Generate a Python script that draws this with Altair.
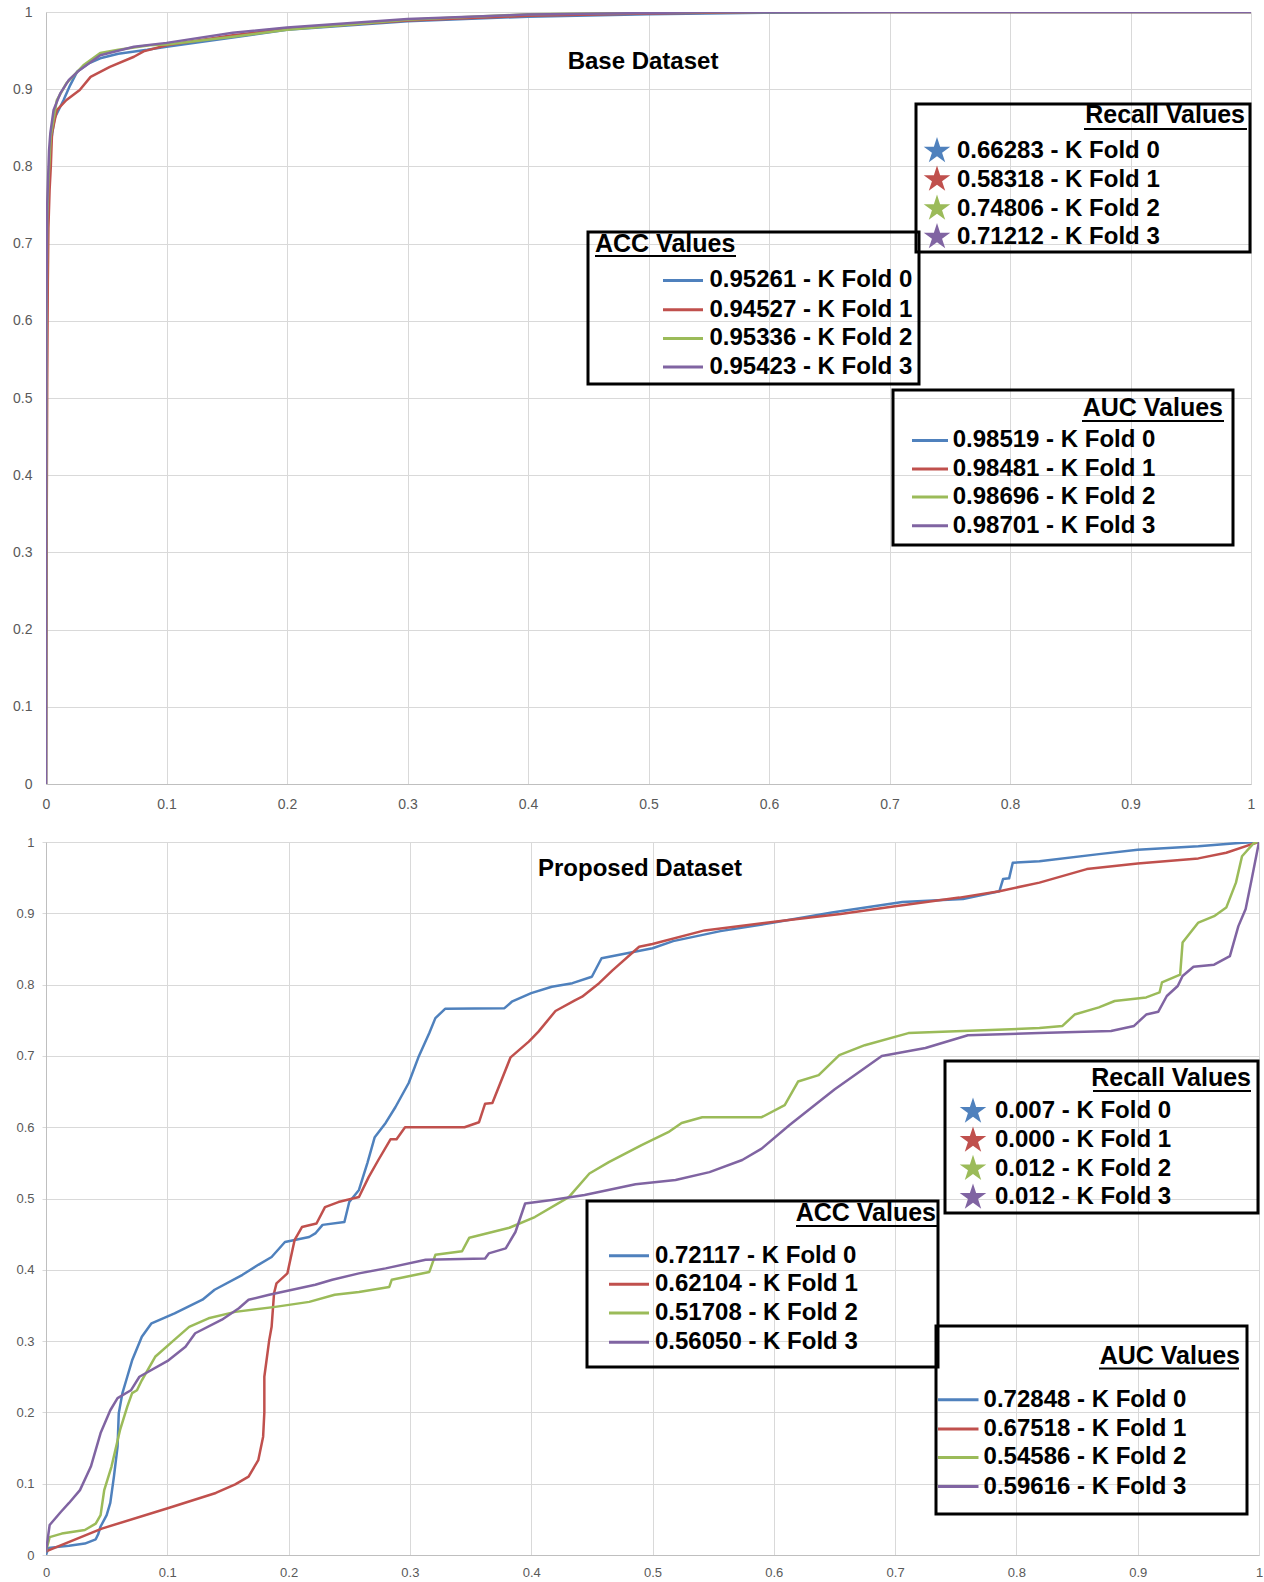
import altair as alt
import pandas as pd

FOLDS = ["K Fold 0", "K Fold 1", "K Fold 2", "K Fold 3"]
COLORS = ["#4F81BD", "#C0504D", "#9BBB59", "#8064A2"]
TICKS = [0, 0.1, 0.2, 0.3, 0.4, 0.5, 0.6, 0.7, 0.8, 0.9, 1]

# ---------------- Base dataset ROC curves ----------------
base_k0_fpr = [0, 0.0004, 0.001, 0.002, 0.004, 0.007, 0.0146, 0.02, 0.026, 0.035, 0.045, 0.06, 0.084, 0.1, 0.155, 0.2, 0.3, 0.4, 0.5, 0.6, 0.7, 1.0]
base_k0_tpr = [0, 0.55, 0.72, 0.77, 0.83, 0.862, 0.886, 0.905, 0.923, 0.933, 0.94, 0.946, 0.951, 0.955, 0.967, 0.977, 0.988, 0.994, 0.997, 0.999, 1.0, 1.0]

base_k1_fpr = [0, 0.0005, 0.001, 0.0015, 0.002, 0.003, 0.004, 0.005, 0.009, 0.017, 0.028, 0.037, 0.053, 0.073, 0.081, 0.1, 0.155, 0.2, 0.3, 0.4, 0.5, 0.6, 1.0]
base_k1_tpr = [0, 0.3, 0.52, 0.65, 0.72, 0.77, 0.8, 0.843, 0.873, 0.886, 0.899, 0.916, 0.929, 0.942, 0.949, 0.957, 0.97, 0.978, 0.989, 0.995, 0.998, 1.0, 1.0]

base_k2_fpr = [0, 0.0004, 0.001, 0.002, 0.004, 0.009, 0.017, 0.031, 0.045, 0.06, 0.086, 0.1, 0.155, 0.2, 0.3, 0.4, 0.5, 0.55, 1.0]
base_k2_tpr = [0, 0.55, 0.73, 0.78, 0.84, 0.886, 0.908, 0.931, 0.947, 0.951, 0.957, 0.958, 0.968, 0.977, 0.99, 0.997, 0.999, 1.0, 1.0]

base_k3_fpr = [0, 0.0003, 0.001, 0.0025, 0.0036, 0.0063, 0.012, 0.019, 0.028, 0.045, 0.073, 0.1, 0.155, 0.2, 0.3, 0.4, 0.5, 0.55, 1.0]
base_k3_tpr = [0, 0.6, 0.75, 0.82, 0.843, 0.873, 0.895, 0.912, 0.925, 0.944, 0.955, 0.96, 0.973, 0.98, 0.991, 0.9967, 0.9987, 1.0, 1.0]

# ---------------- Proposed dataset ROC curves ----------------
prop_k0_fpr = [0, 0.002, 0.019, 0.032, 0.041, 0.043, 0.045, 0.05, 0.053, 0.056, 0.059, 0.06, 0.063, 0.067, 0.071, 0.079, 0.087, 0.106, 0.129, 0.139, 0.162, 0.175, 0.186, 0.197, 0.217, 0.222, 0.228, 0.246, 0.25, 0.258, 0.265, 0.271, 0.28, 0.288, 0.299, 0.307, 0.316, 0.321, 0.329, 0.378, 0.384, 0.4, 0.417, 0.434, 0.45, 0.458, 0.5, 0.517, 0.556, 0.6, 0.648, 0.706, 0.756, 0.786, 0.789, 0.794, 0.797, 0.819, 0.868, 0.9, 0.95, 0.986, 1.0]
prop_k0_tpr = [0, 0.01, 0.013, 0.016, 0.022, 0.029, 0.04, 0.056, 0.073, 0.11, 0.152, 0.199, 0.227, 0.25, 0.273, 0.306, 0.325, 0.339, 0.358, 0.372, 0.393, 0.407, 0.418, 0.439, 0.446, 0.451, 0.463, 0.467, 0.495, 0.512, 0.55, 0.586, 0.606, 0.628, 0.662, 0.698, 0.732, 0.753, 0.766, 0.767, 0.776, 0.788, 0.797, 0.802, 0.811, 0.837, 0.851, 0.861, 0.875, 0.887, 0.901, 0.916, 0.92, 0.931, 0.948, 0.949, 0.971, 0.973, 0.983, 0.989, 0.994, 0.999, 1.0]

prop_k1_fpr = [0, 0.046, 0.101, 0.14, 0.156, 0.167, 0.175, 0.179, 0.18, 0.18, 0.184, 0.186, 0.188, 0.19, 0.199, 0.205, 0.211, 0.223, 0.23, 0.241, 0.258, 0.266, 0.274, 0.284, 0.289, 0.296, 0.345, 0.357, 0.362, 0.368, 0.383, 0.398, 0.406, 0.42, 0.436, 0.442, 0.456, 0.467, 0.489, 0.5, 0.543, 0.609, 0.655, 0.7, 0.753, 0.786, 0.819, 0.858, 0.9, 0.95, 0.973, 0.996, 1.0]
prop_k1_tpr = [0.005, 0.037, 0.066, 0.087, 0.099, 0.11, 0.133, 0.166, 0.2, 0.25, 0.301, 0.32, 0.367, 0.381, 0.395, 0.442, 0.46, 0.465, 0.488, 0.495, 0.502, 0.53, 0.554, 0.583, 0.583, 0.6, 0.6, 0.607, 0.633, 0.634, 0.698, 0.72, 0.734, 0.763, 0.778, 0.783, 0.802, 0.82, 0.853, 0.857, 0.876, 0.89, 0.899, 0.91, 0.922, 0.931, 0.943, 0.962, 0.97, 0.977, 0.985, 0.998, 1.0]

prop_k2_fpr = [0, 0.003, 0.013, 0.032, 0.041, 0.045, 0.048, 0.054, 0.061, 0.067, 0.071, 0.075, 0.079, 0.09, 0.106, 0.118, 0.134, 0.156, 0.189, 0.217, 0.238, 0.258, 0.283, 0.285, 0.316, 0.321, 0.343, 0.349, 0.382, 0.403, 0.431, 0.448, 0.464, 0.491, 0.513, 0.524, 0.541, 0.59, 0.609, 0.62, 0.637, 0.654, 0.675, 0.711, 0.739, 0.819, 0.838, 0.848, 0.868, 0.881, 0.907, 0.918, 0.92, 0.935, 0.937, 0.95, 0.963, 0.973, 0.981, 0.986, 0.996, 1.0]
prop_k2_tpr = [0.005, 0.025, 0.03, 0.035, 0.044, 0.056, 0.091, 0.124, 0.175, 0.208, 0.227, 0.231, 0.245, 0.278, 0.302, 0.32, 0.332, 0.341, 0.348, 0.355, 0.365, 0.369, 0.376, 0.386, 0.397, 0.421, 0.426, 0.445, 0.459, 0.474, 0.502, 0.535, 0.551, 0.575, 0.593, 0.606, 0.614, 0.614, 0.631, 0.664, 0.673, 0.701, 0.715, 0.732, 0.734, 0.739, 0.742, 0.758, 0.768, 0.777, 0.782, 0.789, 0.803, 0.814, 0.859, 0.887, 0.896, 0.908, 0.943, 0.98, 0.999, 1.0]

prop_k3_fpr = [0, 0.003, 0.012, 0.019, 0.028, 0.037, 0.045, 0.053, 0.059, 0.07, 0.077, 0.101, 0.115, 0.123, 0.145, 0.159, 0.167, 0.184, 0.222, 0.236, 0.258, 0.28, 0.313, 0.362, 0.365, 0.379, 0.387, 0.395, 0.417, 0.444, 0.486, 0.519, 0.547, 0.574, 0.59, 0.613, 0.65, 0.689, 0.725, 0.76, 0.819, 0.878, 0.897, 0.907, 0.917, 0.924, 0.933, 0.937, 0.946, 0.963, 0.976, 0.983, 0.989, 0.994, 1.0]
prop_k3_tpr = [0.005, 0.042, 0.06, 0.073, 0.091, 0.124, 0.171, 0.203, 0.22, 0.231, 0.25, 0.273, 0.292, 0.311, 0.33, 0.346, 0.358, 0.365, 0.379, 0.386, 0.395, 0.402, 0.414, 0.416, 0.423, 0.43, 0.453, 0.493, 0.498, 0.505, 0.52, 0.526, 0.537, 0.554, 0.57, 0.603, 0.653, 0.7, 0.711, 0.729, 0.732, 0.735, 0.742, 0.758, 0.762, 0.784, 0.798, 0.812, 0.825, 0.828, 0.84, 0.882, 0.906, 0.948, 1.0]

# ---------------- Metric values shown in the boxes ----------------
base_recall = ["0.66283", "0.58318", "0.74806", "0.71212"]
base_acc = ["0.95261", "0.94527", "0.95336", "0.95423"]
base_auc = ["0.98519", "0.98481", "0.98696", "0.98701"]
prop_recall = ["0.007", "0.000", "0.012", "0.012"]
prop_acc = ["0.72117", "0.62104", "0.51708", "0.56050"]
prop_auc = ["0.72848", "0.67518", "0.54586", "0.59616"]

FONT = "Liberation Sans"
TICK_FONT = "Liberation Sans"
STAR = ("M0,-1L0.2245,-0.309L0.951,-0.309L0.363,0.118L0.588,0.809L0,0.382"
        "L-0.588,0.809L-0.363,0.118L-0.951,-0.309L-0.2245,-0.309Z")
ONE = pd.DataFrame({"k": [0]})


def roc_frame(series):
    rows = []
    for fold, (fx, ty) in zip(FOLDS, series):
        for i, (a, b) in enumerate(zip(fx, ty)):
            rows.append({"fold": fold, "idx": i, "fpr": a, "tpr": b})
    return pd.DataFrame(rows)


def legend_box(box, heading, h_align, h_x, h_y, ul, values, symbol, sym_x, text_x, rows_y):
    df = pd.DataFrame({
        "label": [f"{v} - {f}" for v, f in zip(values, FOLDS)],
        "color": COLORS,
        "py": rows_y,
    })
    layers = [
        alt.Chart(ONE).mark_rect(filled=False, stroke="black", strokeWidth=3).encode(
            x=alt.value(box[0]), x2=alt.value(box[1]), y=alt.value(box[2]), y2=alt.value(box[3])),
        alt.Chart(ONE).mark_text(text=heading, align=h_align, baseline="alphabetic", font=FONT,
                                 fontSize=25, fontWeight="bold", color="black").encode(
            x=alt.value(h_x), y=alt.value(h_y)),
        alt.Chart(ONE).mark_rule(color="black", strokeWidth=2).encode(
            x=alt.value(ul[0]), x2=alt.value(ul[1]), y=alt.value(ul[2])),
    ]
    if symbol == "line":
        layers.append(alt.Chart(df).mark_rule(strokeWidth=3).encode(
            x=alt.value(sym_x[0]), x2=alt.value(sym_x[1]),
            y=alt.Y("py:Q", scale=None, axis=None),
            color=alt.Color("color:N", scale=None)))
    else:
        layers.append(alt.Chart(df).mark_point(shape=STAR, filled=True, size=780, opacity=1).encode(
            x=alt.value(sym_x),
            y=alt.Y("py:Q", scale=None, axis=None),
            color=alt.Color("color:N", scale=None)))
    layers.append(alt.Chart(df).mark_text(align="left", baseline="middle", font=FONT, fontSize=24,
                                          fontWeight="bold", color="black").encode(
        x=alt.value(text_x), y=alt.Y("py:Q", scale=None, axis=None), text="label:N"))
    return layers


def roc_chart(df, width, height, label_size, y_extent, x_extent, y_ticks, x_pad, y_pad):
    x_axis = alt.Axis(values=TICKS, format="~g", title=None, grid=True, gridColor="#D9D9D9",
                      gridWidth=1, domainColor="#BFBFBF", ticks=False, labelPadding=x_pad,
                      labelFontSize=label_size, labelColor="#595959", labelFont=TICK_FONT,
                      labelFlush=False, minExtent=x_extent, maxExtent=x_extent)
    y_axis = alt.Axis(values=TICKS, format="~g", title=None, grid=True, gridColor="#D9D9D9",
                      gridWidth=1, domainColor="#BFBFBF", ticks=y_ticks, tickSize=4,
                      tickColor="#D9D9D9", labelPadding=y_pad,
                      labelFontSize=label_size, labelColor="#595959", labelFont=TICK_FONT,
                      labelFlush=False, minExtent=y_extent, maxExtent=y_extent)
    return alt.Chart(df).mark_line(strokeWidth=2.5, strokeJoin="round", strokeCap="round", clip=True).encode(
        x=alt.X("fpr:Q", scale=alt.Scale(domain=[0, 1], nice=False, zero=False), axis=x_axis),
        y=alt.Y("tpr:Q", scale=alt.Scale(domain=[0, 1], nice=False, zero=False), axis=y_axis),
        color=alt.Color("fold:N", scale=alt.Scale(domain=FOLDS, range=COLORS), legend=None),
        order="idx:Q",
    ).properties(width=width, height=height)


def title_text(text, x, y):
    return alt.Chart(ONE).mark_text(text=text, align="center", baseline="middle", font=FONT,
                                    fontSize=24, fontWeight="bold", color="black").encode(
        x=alt.value(x), y=alt.value(y))


base_df = roc_frame([(base_k0_fpr, base_k0_tpr), (base_k1_fpr, base_k1_tpr),
                     (base_k2_fpr, base_k2_tpr), (base_k3_fpr, base_k3_tpr)])
prop_df = roc_frame([(prop_k0_fpr, prop_k0_tpr), (prop_k1_fpr, prop_k1_tpr),
                     (prop_k2_fpr, prop_k2_tpr), (prop_k3_fpr, prop_k3_tpr)])

top_lines = roc_chart(base_df, 1205, 772, 14, 46, 30, False, 13, 14)
top_layers = [top_lines, title_text("Base Dataset", 597, 50)]
top_layers += legend_box((870, 1204, 92, 240), "Recall Values", "right", 1199, 111,
                         (1038, 1201, 117), base_recall, "star", 891, 911,
                         [139, 167.5, 196.5, 225])
top_layers += legend_box((542, 873, 220, 372), "ACC Values", "left", 549, 239.5,
                         (549, 690, 244), base_acc, "line", (617, 657), 663.5,
                         [268.4, 297.7, 326.4, 355])
top_layers += legend_box((847, 1187, 378, 533), "AUC Values", "right", 1177, 404,
                         (1036, 1178, 409), base_auc, "line", (866, 902), 906.7,
                         [428.4, 457, 485, 513.7])
top = alt.layer(*top_layers)

bot_lines = roc_chart(prop_df, 1213, 713, 13, 44, 28, True, 11, 8)
bot_layers = [bot_lines, title_text("Proposed Dataset", 594, 27)]
bot_layers += legend_box((899, 1212, 219, 371), "Recall Values", "right", 1205, 244,
                         (1047, 1205, 249), prop_recall, "star", 927, 949,
                         [269.4, 298.4, 326.7, 355.4])
bot_layers += legend_box((541, 892, 359, 525), "ACC Values", "right", 890, 378.5,
                         (750, 891, 384), prop_acc, "line", (563, 603), 609,
                         [413.7, 442.2, 471.1, 500.2])
bot_layers += legend_box((890, 1201, 484, 672), "AUC Values", "right", 1194, 521.5,
                         (1053, 1193, 526.5), prop_auc, "line", (892, 932.5), 937.6,
                         [557.7, 587, 615.4, 644.5])
bottom = alt.layer(*bot_layers)

chart = alt.vconcat(top, bottom, spacing=22).properties(
    padding={"left": 0, "top": 5, "right": 0, "bottom": 0},
    background="white",
).configure_view(strokeWidth=0)

chart.save("out.html", embed_options={"renderer": "svg", "actions": False})
